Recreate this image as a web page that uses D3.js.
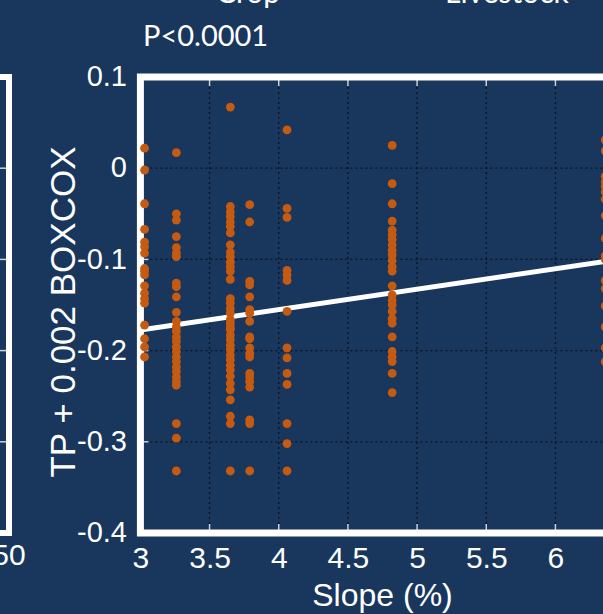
<!DOCTYPE html>
<html>
<head>
<meta charset="utf-8">
<script src="https://cdn.jsdelivr.net/npm/d3@7"></script>
<style>
  html, body { margin: 0; padding: 0; background: #19365d; overflow: hidden; }
  svg { display: block; }
</style>
</head>
<body>
<script>
// slope levels (%) where the samples sit
const slopeLevels = [3.03, 3.26, 3.65, 3.79, 4.06, 4.82, 6.36];

// TP + 0.002 BOXCOX values read per slope level
const tpAt303 = [0.022, -0.002, -0.039, -0.067, -0.081, -0.086, -0.093, -0.110, -0.113, -0.117,
  -0.129, -0.137, -0.143, -0.148, -0.172, -0.187, -0.196, -0.207];
const tpAt326 = [0.017, -0.050, -0.057, -0.075, -0.087, -0.093, -0.097, -0.126, -0.130, -0.141,
  -0.158, -0.168, -0.174, -0.179, -0.185, -0.190, -0.196, -0.201, -0.207, -0.212, -0.218,
  -0.223, -0.229, -0.234, -0.238, -0.280, -0.296, -0.332];
const tpAt365 = [0.067, -0.042, -0.048, -0.053, -0.059, -0.064, -0.071, -0.084, -0.092, -0.097,
  -0.103, -0.108, -0.113, -0.122, -0.143, -0.148, -0.154, -0.159, -0.166, -0.170, -0.174,
  -0.177, -0.183, -0.188, -0.194, -0.199, -0.205, -0.210, -0.216, -0.221, -0.228, -0.236,
  -0.243, -0.254, -0.272, -0.280, -0.332];
const tpAt379 = [-0.040, -0.059, -0.124, -0.128, -0.141, -0.155, -0.159, -0.168, -0.185, -0.187,
  -0.197, -0.203, -0.207, -0.225, -0.229, -0.234, -0.240, -0.276, -0.280, -0.332];
const tpAt406 = [0.042, -0.044, -0.054, -0.112, -0.117, -0.123, -0.157, -0.197, -0.208, -0.225,
  -0.237, -0.280, -0.302, -0.332];
const tpAt482 = [0.025, -0.017, -0.039, -0.058, -0.068, -0.073, -0.078, -0.084, -0.090, -0.095,
  -0.101, -0.108, -0.113, -0.129, -0.139, -0.145, -0.150, -0.157, -0.165, -0.170, -0.185,
  -0.201, -0.207, -0.212, -0.225, -0.246];
const tpAt636 = [0.031, 0.019, -0.009, -0.015, -0.020, -0.026, -0.034, -0.052, -0.077, -0.096,
  -0.100, -0.123, -0.132, -0.151, -0.174, -0.197, -0.212];

// fitted line
const fitIntercept = -0.2446;
const fitSlope = 0.0224;

// tick labels
const slopeTicks = [3, 3.5, 4, 4.5, 5, 5.5, 6, 6.5];
const tpTicks = [0.1, 0, -0.1, -0.2, -0.3, -0.4];
const innerTpTicks = [0, -0.1, -0.2, -0.3];

const columns = [tpAt303, tpAt326, tpAt365, tpAt379, tpAt406, tpAt482, tpAt636];
const points = [];
columns.forEach((vals, i) => vals.forEach(v => points.push([slopeLevels[i], v])));

const W = 603, H = 614;
const svg = d3.select("body").append("svg")
  .attr("width", W)
  .attr("height", H);

const x = d3.scaleLinear().domain([3, 6.5]).range([140.4, 624.6]);
const y = d3.scaleLinear().domain([-0.4, 0.1]).range([533, 77]);

const plotTop = y(0.1), plotBottom = y(-0.4), plotLeft = x(3), plotRight = x(6.5);

// titles cut at the top of the crop
svg.append("text").attr("x", 248).attr("y", 3)
  .attr("text-anchor", "middle")
  .style("font", "30px Lato").attr("fill", "#fff").text("Crop");
svg.append("text").attr("x", 507).attr("y", 3)
  .attr("text-anchor", "middle")
  .style("font", "30px Lato").attr("fill", "#fff").text("Livestock");

svg.append("text").attr("x", 143).attr("y", 46)
  .style("font", "29px Lato").attr("fill", "#fff").text("P<0.0001");

// left neighbour panel (only its right edge is visible)
svg.append("path")
  .attr("d", `M-10,${plotTop} H9 V${plotBottom} H-10`)
  .attr("fill", "none").attr("stroke", "#fff").attr("stroke-width", 6);
svg.append("g").selectAll("line")
  .data(innerTpTicks)
  .enter().append("line")
  .attr("x1", 0).attr("x2", 6)
  .attr("y1", d => y(d)).attr("y2", d => y(d))
  .attr("stroke", "#c9d2dd").attr("stroke-width", 1.5);
svg.append("text").attr("x", 9).attr("y", 565)
  .attr("text-anchor", "middle")
  .style("font", "30px 'Liberation Sans'").attr("fill", "#fff").text("50");

// grid
const grid = svg.append("g")
  .attr("stroke", "#0a1424").attr("stroke-width", 1.3)
  .attr("stroke-dasharray", "2 3");
grid.selectAll(".gx")
  .data(slopeTicks.slice(1))
  .enter().append("line")
  .attr("x1", d => x(d)).attr("x2", d => x(d))
  .attr("y1", plotTop).attr("y2", plotBottom);
grid.selectAll(".gy")
  .data(innerTpTicks)
  .enter().append("line")
  .attr("x1", plotLeft).attr("x2", plotRight)
  .attr("y1", d => y(d)).attr("y2", d => y(d));

// inner tick marks
const ticks = svg.append("g").attr("stroke", "#c9d2dd").attr("stroke-width", 1.5);
slopeTicks.slice(1).forEach(d => {
  ticks.append("line").attr("x1", x(d)).attr("x2", x(d)).attr("y1", plotTop + 3).attr("y2", plotTop + 9);
  ticks.append("line").attr("x1", x(d)).attr("x2", x(d)).attr("y1", plotBottom - 9).attr("y2", plotBottom - 3);
});
innerTpTicks.forEach(d => {
  ticks.append("line").attr("x1", plotLeft + 2).attr("x2", plotLeft + 8).attr("y1", y(d)).attr("y2", y(d));
});

// frame
svg.append("rect")
  .attr("x", plotLeft).attr("y", plotTop)
  .attr("width", plotRight - plotLeft).attr("height", plotBottom - plotTop)
  .attr("fill", "none").attr("stroke", "#fff").attr("stroke-width", 7);

// axes labels
const xAxis = d3.axisBottom(x).tickValues(slopeTicks).tickSize(0).tickFormat(d => String(d));
svg.append("g")
  .attr("transform", `translate(0,${plotBottom + 11})`)
  .call(xAxis)
  .call(g => g.select(".domain").remove())
  .selectAll("text")
  .attr("fill", "#fff")
  .style("font", "30px 'Liberation Sans'");

const yAxis = d3.axisLeft(y).tickValues(tpTicks).tickSize(0).tickFormat(d => String(d));
svg.append("g")
  .attr("transform", `translate(127,0)`)
  .call(yAxis)
  .call(g => g.select(".domain").remove())
  .selectAll("text")
  .attr("fill", "#fff")
  .attr("x", 0)
  .attr("dy", "0.3em")
  .style("font", "29px 'Liberation Sans'");

svg.append("text")
  .attr("x", (plotLeft + plotRight) / 2).attr("y", 606)
  .attr("text-anchor", "middle")
  .style("font", "32px 'Liberation Sans'").attr("fill", "#fff")
  .text("Slope (%)");

svg.append("text")
  .attr("transform", `translate(75,${(plotTop + plotBottom) / 2 + 7}) rotate(-90)`)
  .attr("text-anchor", "middle")
  .style("font", "35px 'Liberation Sans'").attr("fill", "#fff")
  .text("TP + 0.002 BOXCOX");

// fitted line
svg.append("line")
  .attr("x1", x(3)).attr("y1", y(fitIntercept + fitSlope * 3))
  .attr("x2", x(6.5)).attr("y2", y(fitIntercept + fitSlope * 6.5))
  .attr("stroke", "#fff").attr("stroke-width", 5);

// points
svg.append("g").selectAll("circle")
  .data(points)
  .enter().append("circle")
  .attr("cx", d => x(d[0]))
  .attr("cy", d => y(d[1]))
  .attr("r", 4.4)
  .attr("fill", "#c55a11");
</script>
</body>
</html>
